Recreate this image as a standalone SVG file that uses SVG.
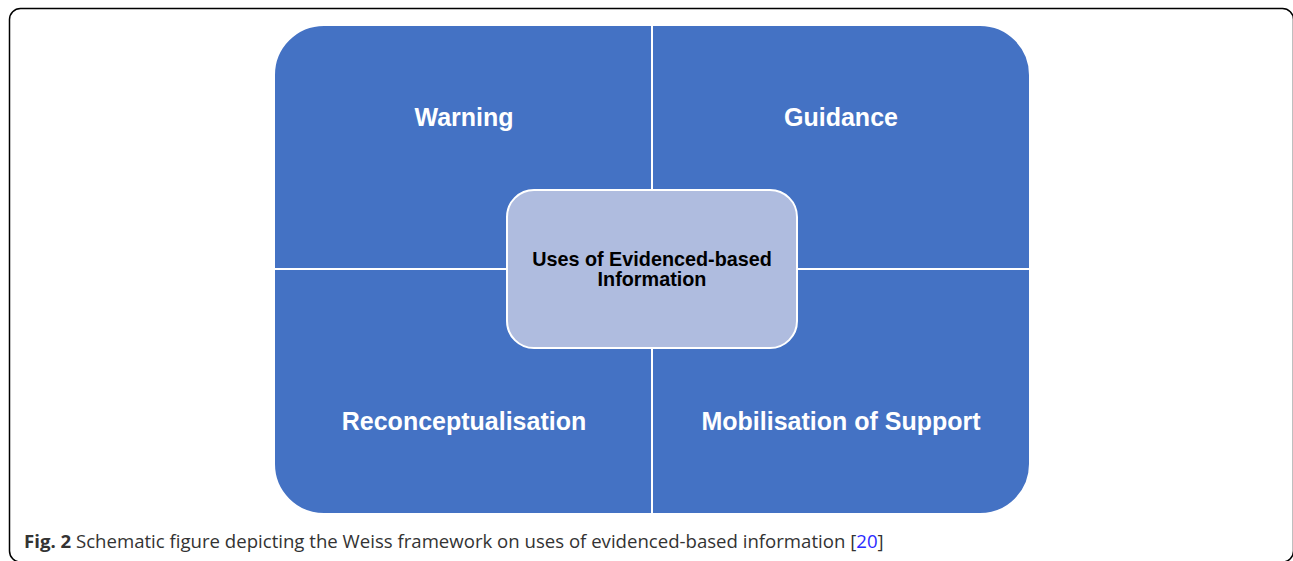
<svg xmlns="http://www.w3.org/2000/svg" width="1293" height="561" viewBox="0 0 1293 561">
<style>
.q{fill:#4472C4;stroke:#ffffff;stroke-width:2}
.ql{font-family:"Liberation Sans",Arial,sans-serif;font-weight:bold;font-size:25px;fill:#ffffff;text-anchor:middle}
.cl{font-family:"Liberation Sans",Arial,sans-serif;font-weight:bold;font-size:19.8px;fill:#000000;text-anchor:middle}
.cap{font-family:"Open Sans","Noto Sans",sans-serif;font-size:18.6px;fill:#333333}
</style>
<rect x="0" y="0" width="1293" height="561" fill="#ffffff"/>
<rect x="9.5" y="8.5" width="1284" height="553.5" rx="11" fill="none" stroke="#000" stroke-width="1.5"/>
<g id="warning">
<path class="q" d="M652,25 V269 H274 V75 A50,50 0 0 1 324,25 Z"/>
<text class="ql" x="464" y="126">Warning</text>
</g>
<g id="guidance">
<path class="q" d="M652,25 H980 A50,50 0 0 1 1030,75 V269 H652 Z"/>
<text class="ql" x="841" y="126">Guidance</text>
</g>
<g id="reconceptualisation">
<path class="q" d="M274,269 H652 V514 H324 A50,50 0 0 1 274,464 Z"/>
<text class="ql" x="464" y="430">Reconceptualisation</text>
</g>
<g id="mobilisation">
<path class="q" d="M652,269 H1030 V464 A50,50 0 0 1 980,514 H652 Z"/>
<text class="ql" x="841" y="430">Mobilisation of Support</text>
</g>
<g id="center">
<rect x="507" y="190" width="290" height="158" rx="27" fill="#AFBCDF" stroke="#ffffff" stroke-width="2"/>
<text class="cl" x="652" y="266">Uses of Evidenced-based</text>
<text class="cl" x="652" y="286">Information</text>
</g>
<g id="connectors"></g>
<text class="cap" x="24" y="548"><tspan font-weight="bold">Fig. 2</tspan> Schematic figure depicting the Weiss framework on uses of evidenced-based information [<tspan fill="#2b2bff">20</tspan>]</text>
</svg>
